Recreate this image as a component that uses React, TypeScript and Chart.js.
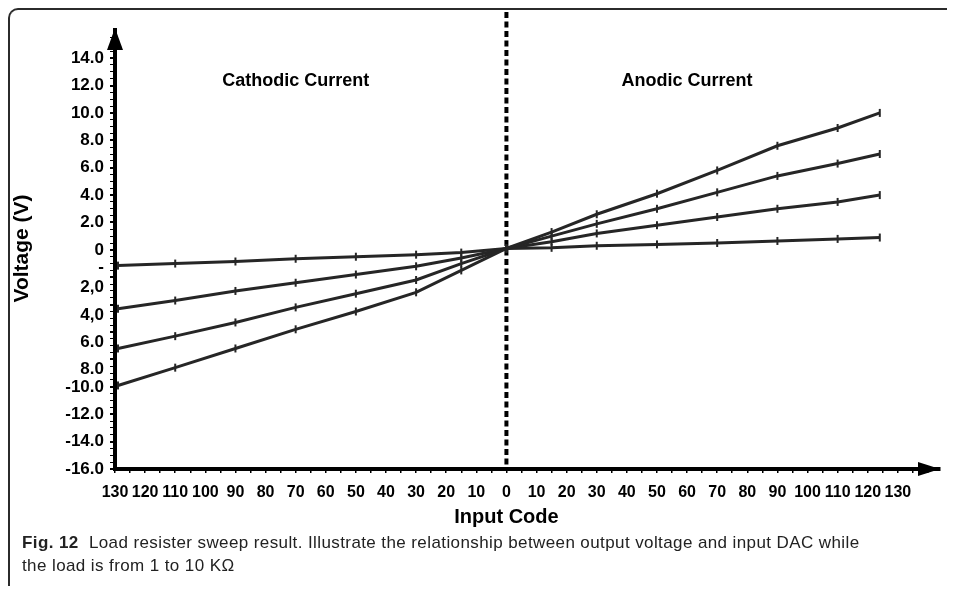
import React, { useEffect, useRef } from "react";
import { Chart, registerables } from "chart.js";

Chart.register(...registerables);

// ---- data ----
const inputCodes = [-129, -110, -90, -70, -50, -30, -15, 0, 15, 30, 50, 70, 90, 110, 124];
const seriesA = [-9.9, -8.6, -7.2, -5.8, -4.5, -3.1, -1.5, 0.1, 1.3, 2.6, 4.1, 5.8, 7.6, 8.9, 10.0];
const seriesB = [-7.2, -6.3, -5.3, -4.2, -3.2, -2.2, -1.0, 0.1, 1.0, 1.9, 3.0, 4.2, 5.4, 6.3, 7.0];
const seriesC = [-4.3, -3.7, -3.0, -2.4, -1.8, -1.2, -0.6, 0.1, 0.6, 1.2, 1.8, 2.4, 3.0, 3.5, 4.0];
const seriesD = [-1.15, -1.0, -0.85, -0.65, -0.5, -0.35, -0.2, 0.1, 0.15, 0.3, 0.4, 0.5, 0.65, 0.8, 0.9];

const xTickValues = [-130, -120, -110, -100, -90, -80, -70, -60, -50, -40, -30, -20, -10, 0, 10, 20, 30, 40, 50, 60, 70, 80, 90, 100, 110, 120, 130];
const xTickLabels = ["130", "120", "110", "100", "90", "80", "70", "60", "50", "40", "30", "20", "10", "0", "10", "20", "30", "40", "50", "60", "70", "80", "90", "100", "110", "120", "130"];
const yTickValues = [14, 12, 10, 8, 6, 4, 2, 0, -2, -4, -6, -8, -10, -12, -14, -16];
const yTickLabels: (string | string[])[] = ["14.0", "12.0", "10.0", "8.0", "6.0", "4.0", "2.0", "0", ["-", "2,0"], ["", "4,0"], ["", "6.0"], ["", "8.0"], "-10.0", "-12.0", "-14.0", "-16.0"];

const regionLabels = ["Cathodic Current", "Anodic Current"];
const xTitle = "Input Code";
const yTitle = "Voltage (V)";

const FONT = "'Liberation Sans', Arial, sans-serif";

const decorPlugin = {
  id: "decor",
  beforeDatasetsDraw(chart: any) {
    const { ctx, chartArea, scales } = chart;
    const x0 = scales.x.getPixelForValue(0);
    ctx.save();
    ctx.strokeStyle = "#000";
    ctx.lineWidth = 4;
    ctx.setLineDash([6, 3.5]);
    ctx.beginPath();
    ctx.moveTo(x0, 4);
    ctx.lineTo(x0, chartArea.bottom);
    ctx.stroke();
    ctx.restore();
  },
  afterDraw(chart: any) {
    const { ctx, chartArea, scales } = chart;
    ctx.save();
    // y arrow
    const ax = chartArea.left;
    ctx.fillStyle = "#fff";
    ctx.fillRect(ax - 4, chartArea.top - 8, 8, 8);
    ctx.fillStyle = "#000";
    ctx.beginPath();
    ctx.moveTo(ax, chartArea.top);
    ctx.lineTo(ax - 8, chartArea.top + 22);
    ctx.lineTo(ax + 8, chartArea.top + 22);
    ctx.closePath();
    ctx.fill();
    // x arrow
    const ay = chartArea.bottom;
    ctx.beginPath();
    ctx.moveTo(chartArea.right, ay);
    ctx.lineTo(chartArea.right - 22, ay - 7);
    ctx.lineTo(chartArea.right - 22, ay + 7);
    ctx.closePath();
    ctx.fill();
    // region labels
    ctx.font = `bold 18px ${FONT}`;
    ctx.textAlign = "center";
    ctx.textBaseline = "middle";
    ctx.fillText(regionLabels[0], scales.x.getPixelForValue(-70), scales.y.getPixelForValue(12.3));
    ctx.fillText(regionLabels[1], scales.x.getPixelForValue(60), scales.y.getPixelForValue(12.3));
    // x title
    ctx.font = `bold 20px ${FONT}`;
    ctx.fillText(xTitle, scales.x.getPixelForValue(0), chartArea.bottom + 48);
    ctx.restore();
  },
};

export default function App() {
  const ref = useRef<HTMLCanvasElement>(null);

  useEffect(() => {
    document.documentElement.style.overflow = "hidden";
    document.body.style.overflow = "hidden";
    const mk = (label: string, data: number[]) => ({
      label,
      data: inputCodes.map((x, i) => ({ x, y: data[i] })),
      borderColor: "#262626",
      borderWidth: 3,
      pointStyle: "line",
      rotation: 90,
      pointRadius: 4,
      pointBorderWidth: 2,
      pointBorderColor: "#262626",
      pointBackgroundColor: "#262626",
      tension: 0,
    });
    const chart = new Chart(ref.current!, {
      type: "line",
      data: {
        datasets: [mk("A", seriesA), mk("B", seriesB), mk("C", seriesC), mk("D", seriesD)],
      },
      plugins: [decorPlugin],
      options: {
        animation: false,
        responsive: false,
        devicePixelRatio: 1,
        layout: { padding: { top: 20, right: 15, left: 0, bottom: 0 } },
        plugins: { legend: { display: false }, tooltip: { enabled: false } },
        scales: {
          x: {
            type: "linear",
            min: -130,
            max: 144,
            afterBuildTicks: (s: any) => {
              const t = [];
              for (let v = -130; v <= 140; v += 5) t.push({ value: v });
              s.ticks = t;
            },
            afterFit: (s: any) => {
              s.height = 69;
            },
            ticks: {
              autoSkip: false,
              maxRotation: 0,
              padding: 10,
              color: "#000",
              font: { family: FONT, size: 16, weight: "bold" },
              callback: (v: any) => {
                const i = xTickValues.indexOf(Number(v));
                return i >= 0 ? xTickLabels[i] : "";
              },
            },
            grid: {
              drawOnChartArea: false,
              tickLength: 4,
              color: "#000",
              lineWidth: 1.5,
            },
            border: { display: true, color: "#000", width: 4 },
          },
          y: {
            type: "linear",
            min: -16,
            max: 16.2,
            afterBuildTicks: (s: any) => {
              const t = [];
              for (let v = -16; v <= 15.5; v += 0.5) t.push({ value: v });
              s.ticks = t;
            },
            afterFit: (s: any) => {
              s.width = 107;
            },
            ticks: {
              autoSkip: false,
              padding: 6,
              color: "#000",
              font: { family: FONT, size: 17, weight: "bold" },
              callback: (v: any) => {
                const i = yTickValues.indexOf(Number(v));
                return i >= 0 ? yTickLabels[i] : "";
              },
            },
            grid: {
              drawOnChartArea: false,
              tickLength: 5,
              color: "#000",
              lineWidth: (c: any) => (c.tick && Number.isInteger(c.tick.value / 2) ? 2 : 1),
            },
            border: { display: true, color: "#000", width: 4 },
            title: {
              display: true,
              text: yTitle,
              color: "#000",
              font: { family: FONT, size: 21, weight: "bold" },
              padding: { top: 2, bottom: 0 },
            },
          },
        },
      },
    });
    return () => chart.destroy();
  }, []);

  return (
    <div style={{ position: "relative", width: 947, height: 578 }}>
      <div
        style={{
          position: "absolute",
          left: 0,
          top: 0,
          width: 947,
          height: 600,
          boxSizing: "border-box",
          borderTop: "2px solid #2b2b2b",
          borderLeft: "2px solid #2b2b2b",
          borderTopLeftRadius: 10,
        }}
      />
      <canvas ref={ref} width={947} height={530} style={{ position: "absolute", left: 0, top: 0 }} />
      <div
        style={{
          position: "absolute",
          left: 14,
          top: 523,
          fontFamily: FONT,
          fontSize: 17,
          letterSpacing: "0.4px",
          lineHeight: "23px",
          color: "#222",
          whiteSpace: "nowrap",
        }}
      >
        <b>Fig. 12</b>&nbsp; Load resister sweep result. Illustrate the relationship between output voltage and input DAC while
        <br />
        the load is from 1 to 10 KΩ
      </div>
    </div>
  );
}
